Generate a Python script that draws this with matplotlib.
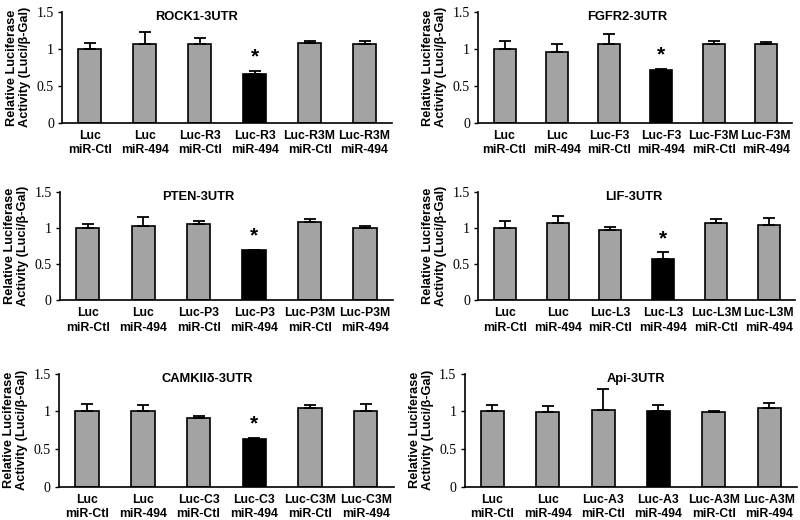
import matplotlib.pyplot as plt
import numpy as np

titles = ["ROCK1-3UTR", "FGFR2-3UTR", "PTEN-3UTR", "LIF-3UTR", "CAMKII\u03b4-3UTR", "Api-3UTR"]
codes = ["R3", "F3", "P3", "L3", "C3", "A3"]

rock1 = [1.00, 1.06, 1.07, 0.66, 1.08, 1.06]
rock1_err = [0.08, 0.17, 0.08, 0.04, 0.03, 0.04]
fgfr2 = [1.00, 0.96, 1.07, 0.71, 1.07, 1.07]
fgfr2_err = [0.11, 0.11, 0.13, 0.02, 0.04, 0.02]
pten = [1.00, 1.02, 1.05, 0.69, 1.08, 1.00]
pten_err = [0.05, 0.13, 0.05, 0.01, 0.04, 0.03]
lif = [1.00, 1.07, 0.97, 0.57, 1.07, 1.04]
lif_err = [0.10, 0.09, 0.04, 0.09, 0.05, 0.10]
camk = [1.00, 1.00, 0.92, 0.63, 1.05, 1.00]
camk_err = [0.10, 0.08, 0.02, 0.02, 0.04, 0.10]
api = [1.00, 0.99, 1.02, 1.01, 0.99, 1.05]
api_err = [0.09, 0.08, 0.28, 0.07, 0.02, 0.06]

values = [rock1, fgfr2, pten, lif, camk, api]
errors = [rock1_err, fgfr2_err, pten_err, lif_err, camk_err, api_err]
starred = [True, True, True, True, True, False]
title_x = [1.95, 2.35, 2.0, 2.45, 2.15, 2.6]

# axes boxes [left, bottom, width, height] in figure fraction
boxes = [
    [0.078, 0.764, 0.412, 0.213],
    [0.598, 0.764, 0.392, 0.213],
    [0.075, 0.423, 0.416, 0.208],
    [0.598, 0.423, 0.396, 0.208],
    [0.074, 0.064, 0.418, 0.217],
    [0.581, 0.064, 0.415, 0.217],
]

fig = plt.figure(figsize=(8, 5.2), dpi=100)
sans = ["Liberation Sans", "DejaVu Sans"]

for i in range(6):
    ax = fig.add_axes(boxes[i])
    x = np.arange(6)
    colors = ["#a3a3a3"] * 6
    colors[3] = "black"
    ax.bar(x, values[i], width=0.42, color=colors, edgecolor="black", linewidth=1.2,
           yerr=[np.zeros(6), errors[i]], error_kw=dict(ecolor="black", elinewidth=1.3, capsize=4, capthick=1.3),
           zorder=2)
    ax.set_xlim(-0.5, 5.5)
    ax.set_ylim(0, 1.5)
    ax.set_yticks([0, 0.5, 1, 1.5])
    ax.set_yticklabels(["0", "0.5", "1", "1.5"], family="Liberation Serif", fontsize=10)
    c = codes[i]
    labels = ["Luc\nmiR-Ctl", "Luc\nmiR-494", "Luc-%s\nmiR-Ctl" % c, "Luc-%s\nmiR-494" % c,
              "Luc-%sM\nmiR-Ctl" % c, "Luc-%sM\nmiR-494" % c]
    ax.set_xticks(x)
    ax.set_xticklabels(labels, family=sans, fontweight="bold", fontsize=8.8, linespacing=1.3)
    ax.tick_params(axis="x", length=0, pad=5)
    ax.tick_params(axis="y", length=3, width=1, direction="out", pad=3)
    for s in ["top", "right"]:
        ax.spines[s].set_visible(False)
    for s in ["left", "bottom"]:
        ax.spines[s].set_linewidth(1.2)
    ax.set_ylabel("Relative Luciferase\nActivity (Luci/\u03b2-Gal)", family=sans, fontweight="bold",
                  fontsize=9.2, labelpad=4, linespacing=1.1)
    ax.text(title_x[i], 1.43, titles[i], family=sans, fontweight="bold", fontsize=9.3,
            ha="center", va="center")
    if starred[i]:
        ax.text(3, values[i][3] + errors[i][3] + 0.06, "*", family=sans, fontweight="bold",
                fontsize=15, ha="center", va="bottom")

fig.savefig("out.png", dpi=100)
